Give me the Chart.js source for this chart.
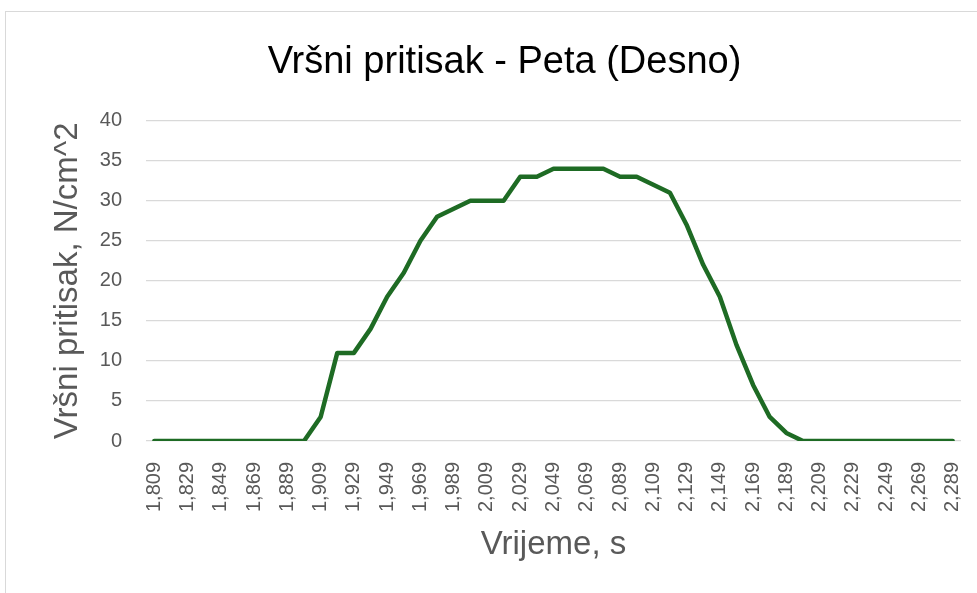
<!DOCTYPE html>
<html>
<head>
<meta charset="utf-8">
<script src="https://cdn.jsdelivr.net/npm/chart.js@4.4.0/dist/chart.umd.min.js"></script>
<style>
  html, body { margin: 0; padding: 0; background: #fff; }
  #wrap { position: relative; width: 977px; height: 593px; overflow: hidden; }
  #frame { position: absolute; left: 5px; top: 11px; width: 990px; height: 600px; border: 1px solid #d9d9d9; }
  canvas { position: absolute; left: 0; top: 0; }
</style>
</head>
<body>
<div id="wrap">
  <div id="frame"></div>
  <canvas id="chart" width="977" height="593"></canvas>
</div>
<script>
  // time stamps (s), one sample every 10 ms
  const times = [
    '1,809', '1,819', '1,829', '1,839', '1,849', '1,859', '1,869', '1,879', '1,889', '1,899',
    '1,909', '1,919', '1,929', '1,939', '1,949', '1,959', '1,969', '1,979', '1,989', '1,999',
    '2,009', '2,019', '2,029', '2,039', '2,049', '2,059', '2,069', '2,079', '2,089', '2,099',
    '2,109', '2,119', '2,129', '2,139', '2,149', '2,159', '2,169', '2,179', '2,189', '2,199',
    '2,209', '2,219', '2,229', '2,239', '2,249', '2,259', '2,269', '2,279', '2,289'
  ];

  // peak pressure, N/cm^2
  const pressure = [
    0, 0, 0, 0, 0, 0, 0, 0, 0, 0,
    3, 11, 11, 14, 18, 21, 25, 28, 29, 30,
    30, 30, 33, 33, 34, 34, 34, 34, 33, 33,
    32, 31, 27, 22, 18, 12, 7, 3, 1, 0,
    0, 0, 0, 0, 0, 0, 0, 0, 0
  ];

  const yTicks = [0, 5, 10, 15, 20, 25, 30, 35, 40];

  const textGrey = '#595959';
  const sans = '"Liberation Sans", Arial, sans-serif';

  const ctx = document.getElementById('chart').getContext('2d');
  new Chart(ctx, {
    type: 'line',
    data: {
      labels: times,
      datasets: [{
        data: pressure,
        borderColor: '#1e6b24',
        borderWidth: 4.5,
        pointRadius: 0,
        tension: 0,
        borderJoinStyle: 'round',
        borderCapStyle: 'round'
      }]
    },
    options: {
      responsive: false,
      animation: false,
      layout: { padding: { left: 48, right: 16, top: 0, bottom: 20 } },
      plugins: {
        legend: { display: false },
        tooltip: { enabled: false },
        title: {
          display: true,
          text: 'Vršni pritisak - Peta (Desno)',
          color: '#000',
          font: { family: sans, size: 38, weight: 'normal' },
          padding: { top: 40, bottom: 35 }
        }
      },
      scales: {
        x: {
          offset: true,
          grid: { display: false },
          border: { display: false },
          ticks: {
            autoSkip: false,
            maxRotation: 90,
            minRotation: 90,
            padding: 13,
            color: textGrey,
            font: { family: sans, size: 20 },
            callback: (v, i) => i % 2 === 0 ? times[i] : ''
          },
          title: {
            display: true,
            text: 'Vrijeme, s',
            color: textGrey,
            font: { family: sans, size: 33 },
            padding: { top: 4, bottom: 8 }
          },
          afterFit: s => { s.height = 132; s.paddingLeft = 0; s.paddingRight = 0; }
        },
        y: {
          min: 0,
          max: 40,
          afterBuildTicks: s => { s.ticks = yTicks.map(v => ({ value: v })); },
          grid: { color: '#d9d9d9', lineWidth: 1.3, drawTicks: false },
          border: { display: false },
          ticks: {
            padding: 24,
            color: textGrey,
            font: { family: sans, size: 20 }
          },
          title: {
            display: true,
            text: 'Vršni pritisak, N/cm^2',
            color: textGrey,
            font: { family: sans, size: 33 },
            padding: { top: 0, bottom: 4 }
          },
          afterFit: s => { s.width = 98; }
        }
      }
    }
  });
</script>
</body>
</html>
